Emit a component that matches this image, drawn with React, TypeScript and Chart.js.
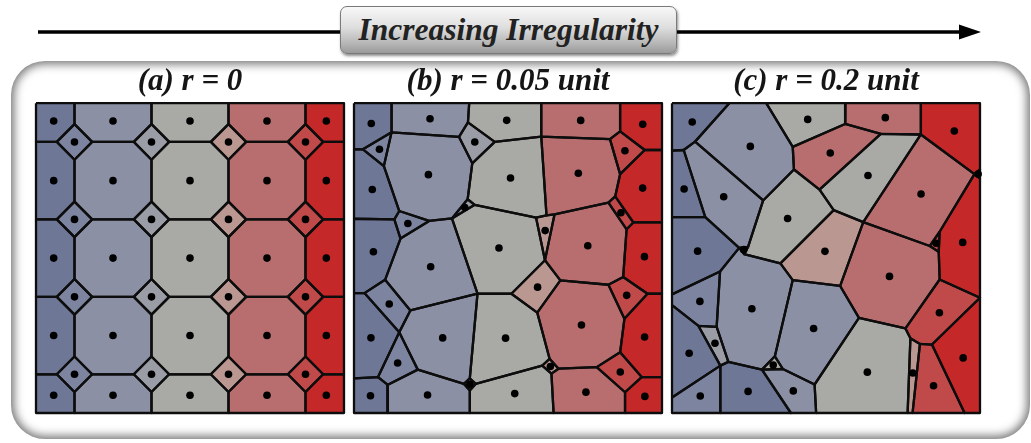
import React, { useEffect, useRef } from 'react';
import { Chart, registerables } from 'chart.js';

Chart.register(...registerables);

type Pt = [number, number];

// ---------- Panel (a): regular generators (power / Laguerre diagram) ----------
const GRID_A = [0, 0.25, 0.5, 0.75, 1];
const DIAMOND_A = [0.125, 0.375, 0.625, 0.875];
const WEIGHT_GRID_A = 0.0169;
const WEIGHT_DIAMOND_A = 0;

// ---------- Panel (b): r = 0.05 unit (cell vertices, unit square, y downward) ----------
const BOUND_B: Pt[] = [
  [0, 0], [0.122, 0], [0.374, 0], [0.608, 0], [0.864, 0], [1, 0],
  [1, 0.151], [1, 0.385], [1, 0.615], [1, 0.884], [1, 1],
  [0.88, 1], [0.648, 1], [0.376, 1], [0.108, 1], [0, 1],
  [0, 0.888], [0, 0.613], [0, 0.373], [0, 0.149],
];
const INNER_B: Pt[] = [
  [0.122, 0.094], [0.029, 0.149], [0.097, 0.203], [0.341, 0.109], [0.37, 0.062],
  [0.457, 0.125], [0.384, 0.194], [0.608, 0.108], [0.831, 0.116], [0.864, 0.091],
  [0.944, 0.151], [0.864, 0.229], [0.848, 0.301], [0.826, 0.321], [0.907, 0.385],
  [0.885, 0.407], [0.369, 0.31], [0.392, 0.328], [0.318, 0.372], [0.147, 0.348],
  [0.244, 0.38], [0.151, 0.437], [0.131, 0.375], [0.591, 0.369], [0.625, 0.362],
  [0.651, 0.359], [0.62, 0.507], [0.67, 0.572], [0.511, 0.615], [0.595, 0.676],
  [0.826, 0.586], [0.874, 0.561], [0.953, 0.615], [0.878, 0.696], [0.864, 0.804],
  [0.788, 0.852], [0.934, 0.884], [0.88, 0.933], [0.664, 0.857], [0.635, 0.825],
  [0.611, 0.847], [0.641, 0.873], [0.395, 0.906], [0.376, 0.888], [0.357, 0.906],
  [0.376, 0.927], [0.401, 0.615], [0.183, 0.669], [0.101, 0.57], [0.034, 0.613],
  [0.147, 0.739], [0.078, 0.884], [0.207, 0.86], [0.11, 0.909],
];
const CELLS_B = [
  'b0 b1 i0 i1 b19', 'i1 i0 i2', 'b19 i1 i2 i19 i22 b18', 'i19 i20 i21 i22',
  'b18 i22 i21 i48 i49 b17', 'i48 i47 i50 i49', 'b17 i49 i50 i51 b16', 'i50 i52 i53 i51',
  'b16 i51 i53 b14 b15', 'b1 b2 i4 i3 i0', 'i0 i3 i6 i16 i18 i20 i19 i2',
  'i20 i18 i46 i47 i48 i21', 'i47 i46 i43 i44 i52 i50', 'i53 i52 i44 i45 b13 b14',
  'i4 i5 i6 i3', 'i16 i17 i18', 'i44 i43 i42 i45', 'b2 b3 i7 i5 i4',
  'i6 i5 i7 i24 i23 i17 i16', 'i17 i23 i26 i28 i46 i18', 'i46 i28 i29 i39 i40 i42 i43',
  'i42 i40 i41 b12 b13 i45', 'i23 i24 i25 i26', 'i28 i26 i27 i29', 'i40 i39 i38 i41',
  'b3 b4 i9 i8 i7', 'i7 i8 i11 i12 i13 i25 i24', 'i25 i13 i15 i31 i30 i27 i26',
  'i27 i30 i33 i34 i35 i38 i39 i29', 'i38 i35 i37 b11 b12 i41', 'i8 i9 i10 i11',
  'i13 i12 i14 i15', 'i30 i31 i32 i33', 'i35 i34 i36 i37', 'b4 b5 b6 i10 i9',
  'i10 b6 b7 i14 i12 i11', 'i14 b7 b8 i32 i31 i15', 'i32 b8 b9 i36 i34 i33',
  'i36 b9 b10 b11 i37',
];
const LEVELS_B = [0, 1, 0, 1, 0, 1, 0, 1, 0, 2, 2, 2, 2, 2, 3, 3, 3, 4, 4, 4, 4, 4, 5, 5, 5, 6, 6, 6, 6, 6, 7, 7, 7, 7, 8, 8, 8, 8, 8];

// ---------- Panel (c): r = 0.2 unit ----------
const BOUND_C: Pt[] = [
  [0, 0], [0.186, 0], [0.306, 0], [0.563, 0], [0.808, 0], [1, 0],
  [1, 0.214], [1, 0.243], [1, 0.628], [1, 1],
  [0.95, 1], [0.781, 1], [0.765, 1], [0.468, 1], [0.386, 1], [0.157, 1], [0, 1],
  [0, 0.95], [0, 0.652], [0, 0.617], [0, 0.368], [0, 0.153],
];
const INNER_C: Pt[] = [
  [0.075, 0.124], [0.038, 0.151], [0.392, 0.141], [0.562, 0.067], [0.678, 0.099],
  [0.808, 0.101], [0.396, 0.214], [0.479, 0.279], [0.296, 0.314], [0.108, 0.368],
  [0.525, 0.345], [0.621, 0.384], [0.982, 0.229], [0.869, 0.415], [0.837, 0.461],
  [0.866, 0.48], [0.869, 0.569], [0.218, 0.467], [0.247, 0.464], [0.234, 0.487],
  [0.352, 0.517], [0.156, 0.543], [0.392, 0.571], [0.546, 0.59], [0.607, 0.693],
  [0.758, 0.727], [0.774, 0.759], [0.805, 0.777], [0.844, 0.779], [0.145, 0.722],
  [0.086, 0.719], [0.183, 0.835], [0.157, 0.847], [0.334, 0.817], [0.292, 0.86],
  [0.36, 0.858], [0.463, 0.908],
];
const CELLS_C = [
  'c0 c1 d0 d1 c21', 'c1 c2 d2 d6 d8 d0', 'c2 c3 d3 d2', 'c3 c4 d5 d4 d3',
  'c4 c5 c6 d12 d5', 'c21 d1 d9 c20', 'd2 d3 d4 d7 d6', 'd4 d5 d11 d10 d7',
  'd12 c6 c7', 'd1 d0 d8 d18 d17 d9', 'd6 d7 d10 d20 d19 d18 d8', 'd5 d12 d13 d14 d11',
  'c20 d9 d17 d21 c19', 'd17 d18 d19', 'd20 d10 d11 d23 d22', 'd13 d15 d14',
  'd12 c7 c8 d16 d15 d13', 'd23 d11 d14 d15 d16 d25 d24', 'c19 d21 d29 d30 c18',
  'd21 d17 d19 d20 d22 d33 d34 d31 d29', 'd22 d23 d24 d36 d35 d33',
  'd25 d16 c8 d28 d27 d26', 'd30 d29 d31 d32', 'c18 d30 d32 c17', 'd34 d33 d35',
  'd24 d25 d26 c12 c13 d36', 'd28 c8 c9 c10', 'd26 d27 c11 c12', 'd27 d28 c10 c11',
  'd32 d31 d34 c14 c15', 'd34 d35 d36 c13 c14', 'c17 d32 c15 c16',
];
const LEVELS_C = [0, 2, 4, 6, 8, 0, 6, 4, 7, 2, 4, 6, 0, 3, 5, 7, 8, 6, 1, 2, 2, 7, 3, 0, 4, 4, 8, 5, 7, 0, 2, 1];

const TITLES = ['(a) r = 0', '(b) r = 0.05 unit', '(c) r = 0.2 unit'];

// colour per original column position (0, 0.125, ... 1)
const PALETTE = ['#6e7796', '#7d849f', '#8b90a5', '#9b9da6', '#a9a9a5', '#bb9792', '#b86e6e', '#c04a4a', '#c42828'];

type Cell = { pts: Pt[]; level: number };

function clipHalf(poly: Pt[], a: number, b: number, c: number): Pt[] {
  const out: Pt[] = [];
  for (let k = 0; k < poly.length; k++) {
    const p = poly[k];
    const q = poly[(k + 1) % poly.length];
    const fp = a * p[0] + b * p[1] - c;
    const fq = a * q[0] + b * q[1] - c;
    if (fp <= 1e-12) out.push(p);
    if ((fp < -1e-12 && fq > 1e-12) || (fp > 1e-12 && fq < -1e-12)) {
      const t = fp / (fp - fq);
      out.push([p[0] + t * (q[0] - p[0]), p[1] + t * (q[1] - p[1])]);
    }
  }
  return out;
}

function buildCellsA(): Cell[] {
  const seeds: { x: number; y: number; w: number }[] = [];
  GRID_A.forEach((x) => GRID_A.forEach((y) => seeds.push({ x, y, w: WEIGHT_GRID_A })));
  DIAMOND_A.forEach((x) => DIAMOND_A.forEach((y) => seeds.push({ x, y, w: WEIGHT_DIAMOND_A })));
  const cells: Cell[] = [];
  seeds.forEach((s, i) => {
    let poly: Pt[] = [[0, 0], [1, 0], [1, 1], [0, 1]];
    seeds.forEach((o, j) => {
      if (i === j || poly.length === 0) return;
      const a = 2 * (o.x - s.x);
      const b = 2 * (o.y - s.y);
      const c = o.x * o.x + o.y * o.y - s.x * s.x - s.y * s.y - o.w + s.w;
      poly = clipHalf(poly, a, b, c);
    });
    if (poly.length >= 3) cells.push({ pts: poly, level: Math.round(s.x * 8) });
  });
  return cells;
}

function buildCells(bound: Pt[], inner: Pt[], specs: string[], levels: number[], bKey: string): Cell[] {
  return specs.map((spec, n) => ({
    pts: spec.split(' ').map((k) => (k[0] === bKey ? bound : inner)[parseInt(k.slice(1), 10)]),
    level: levels[n],
  }));
}

function centroid(pts: Pt[]) {
  let A = 0;
  let cx = 0;
  let cy = 0;
  for (let k = 0; k < pts.length; k++) {
    const [x0, y0] = pts[k];
    const [x1, y1] = pts[(k + 1) % pts.length];
    const cr = x0 * y1 - x1 * y0;
    A += cr;
    cx += (x0 + x1) * cr;
    cy += (y0 + y1) * cr;
  }
  A /= 2;
  if (Math.abs(A) < 1e-9) {
    const sx = pts.reduce((s, p) => s + p[0], 0) / pts.length;
    const sy = pts.reduce((s, p) => s + p[1], 0) / pts.length;
    return { x: sx, y: sy };
  }
  return { x: cx / (6 * A), y: cy / (6 * A) };
}

const CANVAS_W = 316;
const CANVAS_H = 354;
const SERIF = '"Liberation Serif", "Times New Roman", serif';

function Panel({ title, cells, left, top }: { title: string; cells: Cell[]; left: number; top: number }) {
  const ref = useRef<HTMLCanvasElement>(null);
  useEffect(() => {
    const datasets: any[] = [
      {
        label: 'centroids',
        data: cells.map((c) => centroid(c.pts)),
        showLine: false,
        pointRadius: 3.8,
        pointBackgroundColor: '#000',
        pointBorderWidth: 0,
        order: 0,
        clip: false,
      },
    ];
    cells.forEach((c, n) => {
      datasets.push({
        label: 'cell' + n,
        data: [...c.pts, c.pts[0]].map(([x, y]) => ({ x, y })),
        showLine: true,
        fill: 'shape',
        backgroundColor: PALETTE[c.level],
        borderColor: '#0d0d0d',
        borderWidth: 2.3,
        borderJoinStyle: 'round',
        pointRadius: 0,
        order: 1,
        clip: false,
      });
    });
    const chart = new Chart(ref.current as HTMLCanvasElement, {
      type: 'scatter',
      data: { datasets },
      options: {
        animation: false,
        responsive: false,
        devicePixelRatio: 1,
        events: [],
        layout: { padding: { left: 3, right: 3, top: 0, bottom: 3 } },
        scales: {
          x: { type: 'linear', min: 0, max: 1, display: false },
          y: { type: 'linear', min: 0, max: 1, reverse: true, display: false },
        },
        plugins: {
          legend: { display: false },
          tooltip: { enabled: false },
          filler: { drawTime: 'beforeDatasetsDraw', propagate: false },
          title: {
            display: true,
            text: title,
            color: '#151515',
            font: { family: SERIF, size: 31, style: 'italic', weight: 'bold', lineHeight: 1.2 },
            padding: { top: 0, bottom: 3 },
          },
        },
      } as any,
    });
    return () => chart.destroy();
  }, []);
  return (
    <canvas
      ref={ref}
      width={CANVAS_W}
      height={CANVAS_H}
      style={{ position: 'absolute', left, top, width: CANVAS_W, height: CANVAS_H }}
    />
  );
}

export default function App() {
  const cellsA = buildCellsA();
  const cellsB = buildCells(BOUND_B, INNER_B, CELLS_B, LEVELS_B, 'b');
  const cellsC = buildCells(BOUND_C, INNER_C, CELLS_C, LEVELS_C, 'c');
  return (
    <div style={{ position: 'absolute', left: 0, top: 0, width: 1031, height: 443, background: '#fff', overflow: 'hidden' }}>
      <div
        style={{
          position: 'absolute',
          left: 11,
          top: 61,
          width: 1019,
          height: 378,
          borderRadius: 34,
          background: '#fff',
          boxShadow: 'inset 0 0 10px 3px rgba(0,0,0,0.55)',
        }}
      />
      <svg width={1031} height={60} style={{ position: 'absolute', left: 0, top: 0 }}>
        <line x1={38} y1={32} x2={964} y2={32} stroke="#000" strokeWidth={3.5} />
        <polygon points="981,32 959,24.5 959,39.5" fill="#000" />
      </svg>
      <div
        style={{
          position: 'absolute',
          left: 340,
          top: 6,
          width: 337,
          height: 48,
          boxSizing: 'border-box',
          borderRadius: 7,
          border: '1px solid #7a7a7a',
          background: 'linear-gradient(#f8f8f8, #dedede 45%, #b5b5b5 80%, #9a9a9a)',
          boxShadow: '1px 2px 3px rgba(0,0,0,0.45)',
          display: 'flex',
          alignItems: 'center',
          justifyContent: 'center',
          fontFamily: SERIF,
          fontStyle: 'italic',
          fontWeight: 'bold',
          fontSize: 31.5,
          color: '#222',
          whiteSpace: 'nowrap',
        }}
      >
        Increasing Irregularity
      </div>
      <Panel title={TITLES[0]} cells={cellsA} left={32} top={63} />
      <Panel title={TITLES[1]} cells={cellsB} left={350} top={63} />
      <Panel title={TITLES[2]} cells={cellsC} left={668} top={63} />
    </div>
  );
}
